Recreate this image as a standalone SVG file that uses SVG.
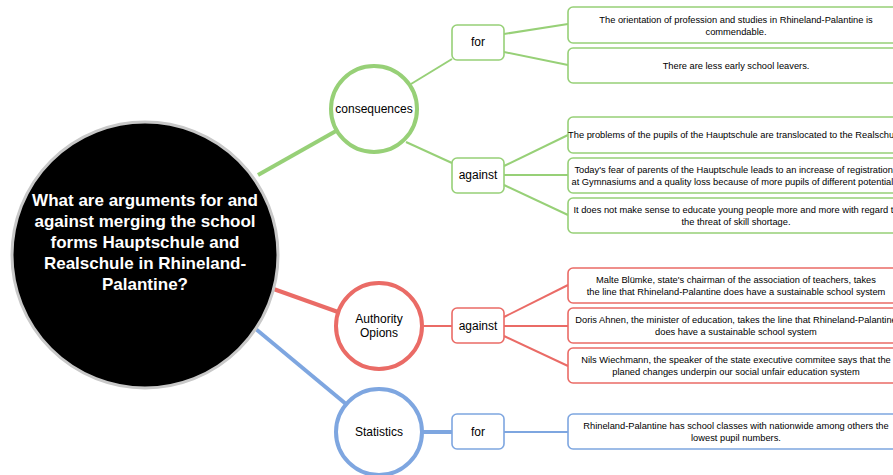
<svg xmlns="http://www.w3.org/2000/svg" width="893" height="475" viewBox="0 0 893 475">
<style>
text{font-family:"Liberation Sans",Arial,sans-serif;fill:#000;text-anchor:middle}
.leaf{font-size:9.3px}
.lbl{font-size:12px}
.root{font-size:17px;font-weight:bold;fill:#fff}
.g{stroke:#97D077}
.r{stroke:#EA6B66}
.b{stroke:#7EA6E0}
.box{fill:#fff;stroke-width:1.6}
.circ{fill:#fff;stroke-width:4}
.c line{fill:none}
</style>
<rect width="893" height="475" fill="#fff"/>
<g id="connectors" class="c">
<line class="g" x1="258" y1="175" x2="336" y2="131" stroke-width="4"/>
<line class="r" x1="268" y1="287" x2="338" y2="312" stroke-width="4"/>
<line class="b" x1="245" y1="320" x2="346" y2="404" stroke-width="4"/>
<line class="g" x1="411" y1="84" x2="452" y2="59" stroke-width="2"/>
<line class="g" x1="406" y1="142" x2="452" y2="163" stroke-width="2"/>
<line class="g" x1="504" y1="34" x2="568" y2="24" stroke-width="2"/>
<line class="g" x1="504" y1="52" x2="568" y2="65" stroke-width="2"/>
<line class="g" x1="504" y1="166" x2="568" y2="135" stroke-width="2"/>
<line class="g" x1="504" y1="175" x2="568" y2="175" stroke-width="2"/>
<line class="g" x1="504" y1="185" x2="568" y2="215" stroke-width="2"/>
<line class="r" x1="424" y1="326" x2="452" y2="326" stroke-width="2"/>
<line class="r" x1="504" y1="317" x2="568" y2="285" stroke-width="2"/>
<line class="r" x1="504" y1="326" x2="568" y2="326" stroke-width="2"/>
<line class="r" x1="504" y1="336" x2="568" y2="366" stroke-width="2"/>
<line class="b" x1="422" y1="432" x2="452" y2="432" stroke-width="4"/>
<line class="b" x1="504" y1="432" x2="568" y2="432" stroke-width="2"/>
</g>
<g id="root">
<circle cx="145" cy="255" r="133" fill="#000" stroke="#c8c8c8" stroke-width="3"/>
<text class="root" x="145" y="206">What are arguments for and</text>
<text class="root" x="145" y="227">against merging the school</text>
<text class="root" x="145" y="248">forms Hauptschule and</text>
<text class="root" x="145" y="269">Realschule in Rhineland-</text>
<text class="root" x="145" y="290">Palantine?</text>
</g>
<g id="consequences">
<circle class="circ g" cx="374" cy="109" r="43"/>
<text class="lbl" x="374" y="113">consequences</text>
</g>
<g id="authority">
<circle class="circ r" cx="379" cy="326" r="43"/>
<text class="lbl" x="379" y="323">Authority</text>
<text class="lbl" x="379" y="337">Opions</text>
</g>
<g id="statistics">
<circle class="circ b" cx="379" cy="432" r="43"/>
<text class="lbl" x="379" y="436">Statistics</text>
</g>
<g id="cons-for">
<rect class="box g" x="452" y="25" width="52" height="35" rx="5"/>
<text class="lbl" x="478" y="46">for</text>
</g>
<g id="cons-against">
<rect class="box g" x="452" y="158" width="52" height="35" rx="5"/>
<text class="lbl" x="478" y="179">against</text>
</g>
<g id="auth-against">
<rect class="box r" x="452" y="308" width="52" height="35" rx="5"/>
<text class="lbl" x="478" y="330">against</text>
</g>
<g id="stat-for">
<rect class="box b" x="452" y="414" width="52" height="35" rx="5"/>
<text class="lbl" x="478" y="436">for</text>
</g>
<g id="g1">
<rect class="box g" x="568" y="7" width="336" height="36" rx="5"/>
<text class="leaf" x="736" y="23">The orientation of profession and studies in Rhineland-Palantine is</text>
<text class="leaf" x="736" y="34.5">commendable.</text>
</g>
<g id="g2">
<rect class="box g" x="568" y="48" width="336" height="35" rx="5"/>
<text class="leaf" x="736" y="69">There are less early school leavers.</text>
</g>
<g id="g3">
<rect class="box g" x="568" y="117" width="336" height="36" rx="5"/>
<text class="leaf" x="736" y="138">The problems of the pupils of the Hauptschule are translocated to the Realschule.</text>
</g>
<g id="g4">
<rect class="box g" x="568" y="158" width="336" height="35" rx="5"/>
<text class="leaf" x="736" y="173">Today's fear of parents of the Hauptschule leads to an increase of registrations</text>
<text class="leaf" x="736" y="184.5">at Gymnasiums and a quality loss because of more pupils of different potentials.</text>
</g>
<g id="g5">
<rect class="box g" x="568" y="198" width="336" height="35" rx="5"/>
<text class="leaf" x="736" y="213">It does not make sense to educate young people more and more with regard to</text>
<text class="leaf" x="736" y="224.5">the threat of skill shortage.</text>
</g>
<g id="r1">
<rect class="box r" x="568" y="268" width="336" height="35" rx="5"/>
<text class="leaf" x="736" y="283">Malte Blümke, state's chairman of the association of teachers, takes</text>
<text class="leaf" x="736" y="294.5">the line that Rhineland-Palantine does have a sustainable school system</text>
</g>
<g id="r2">
<rect class="box r" x="568" y="308" width="336" height="35" rx="5"/>
<text class="leaf" x="736" y="323">Doris Ahnen, the minister of education, takes the line that Rhineland-Palantine</text>
<text class="leaf" x="736" y="334.5">does have a sustainable school system</text>
</g>
<g id="r3">
<rect class="box r" x="568" y="348" width="336" height="35" rx="5"/>
<text class="leaf" x="736" y="363">Nils Wiechmann, the speaker of the state executive commitee says that the</text>
<text class="leaf" x="736" y="374.5">planed changes underpin our social unfair education system</text>
</g>
<g id="b1">
<rect class="box b" x="568" y="414" width="336" height="35" rx="5"/>
<text class="leaf" x="736" y="429">Rhineland-Palantine has school classes with nationwide among others the</text>
<text class="leaf" x="736" y="440.5">lowest pupil numbers.</text>
</g>
</svg>
